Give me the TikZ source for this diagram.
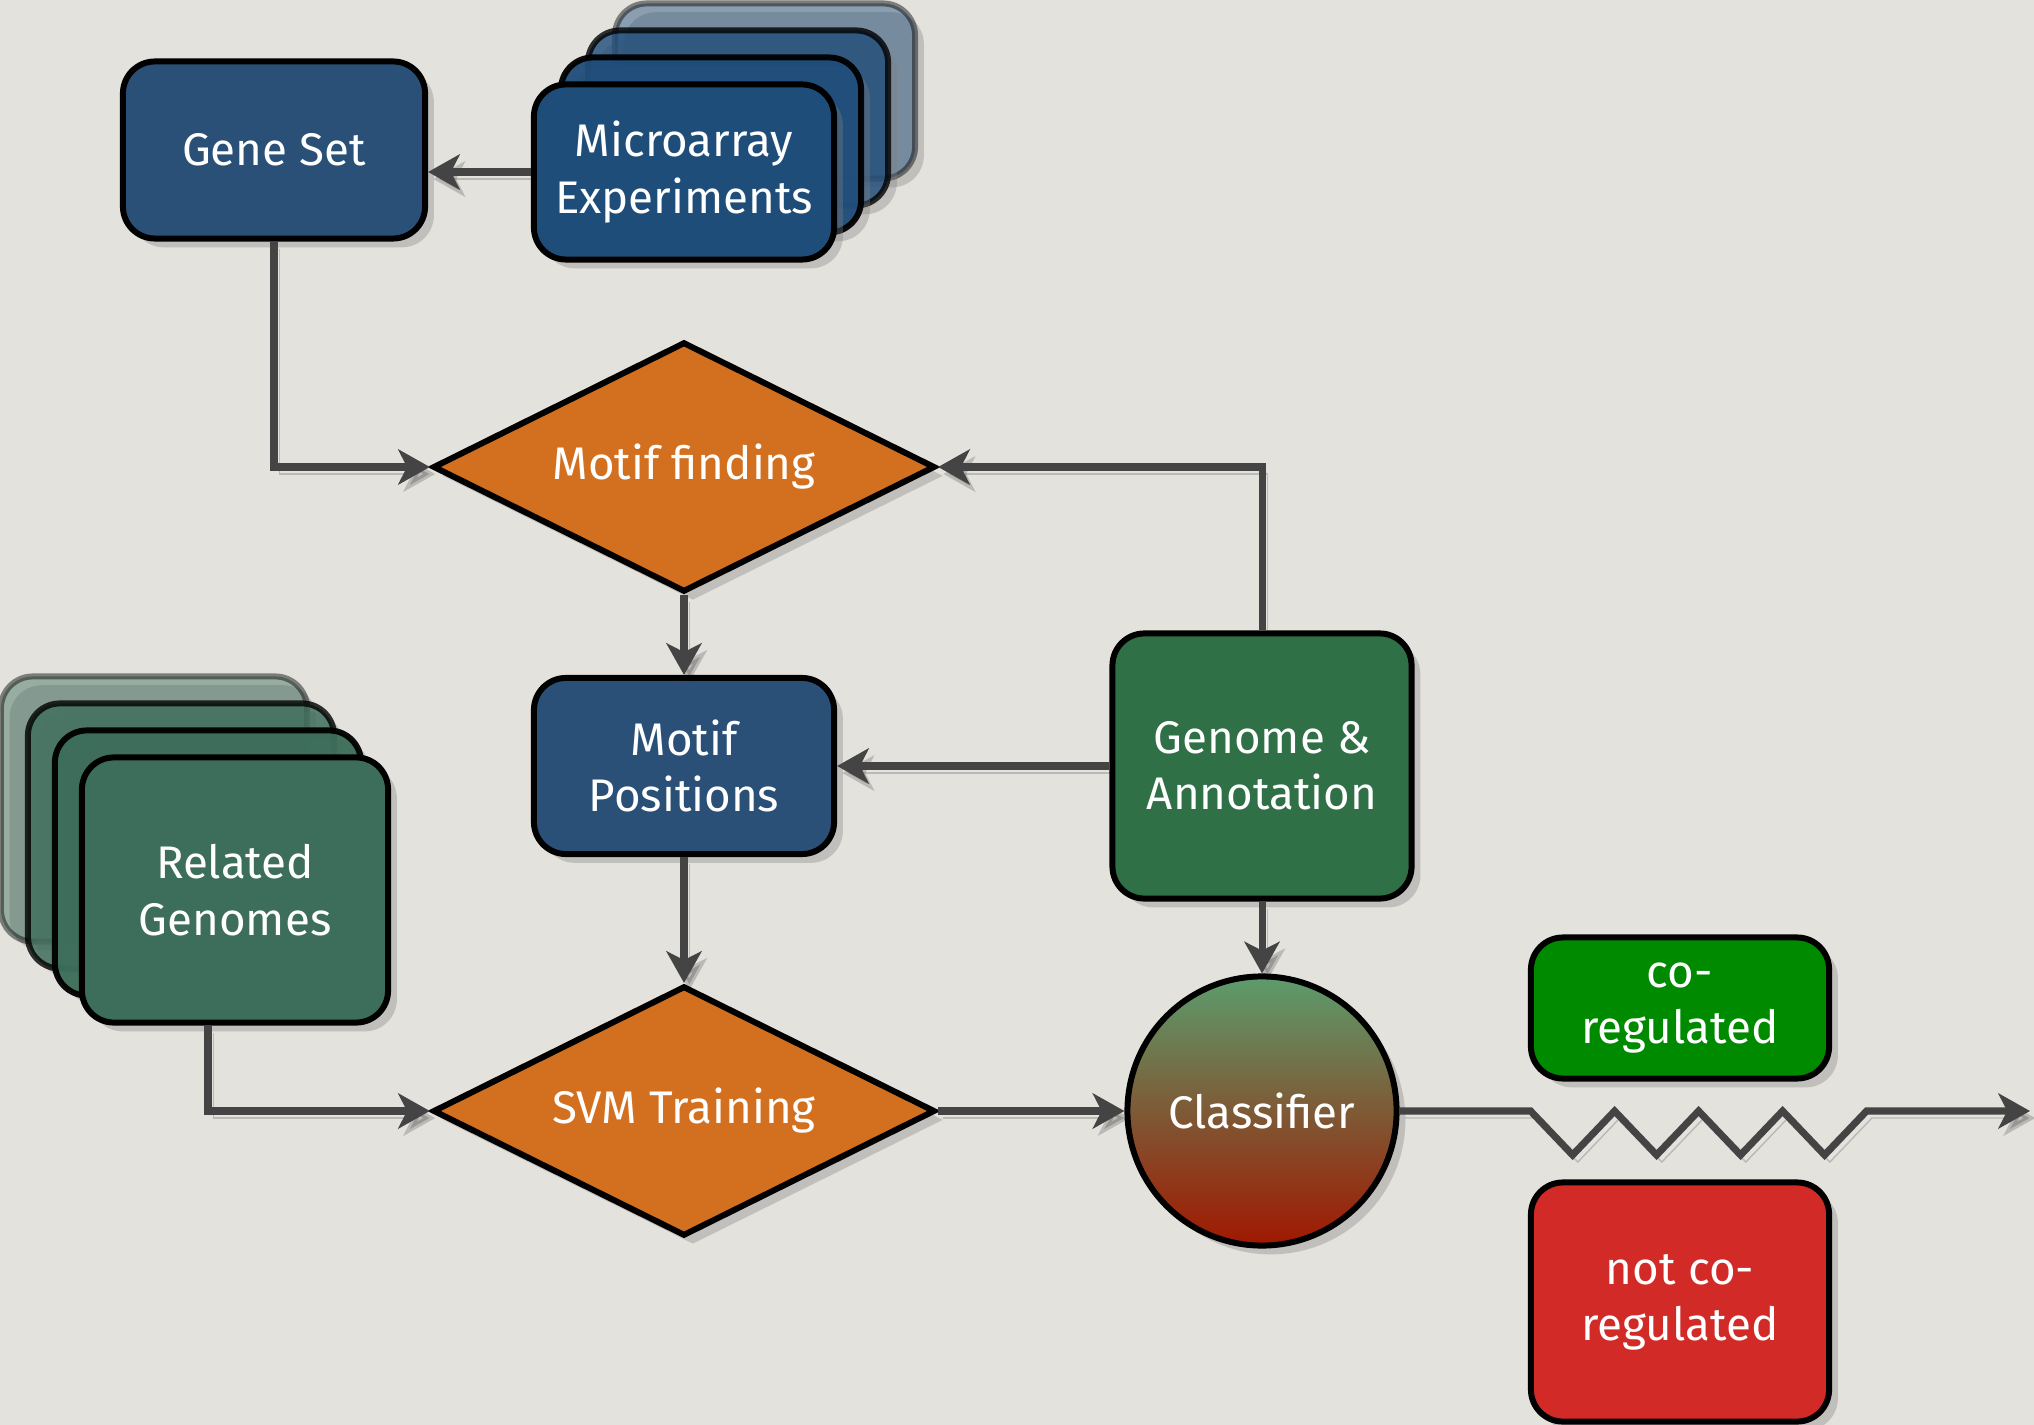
\documentclass[tikz,border=0pt]{standalone}
\usepackage{fontspec}
\setmainfont{Fira Sans}
\usepackage{tikz}
\usetikzlibrary{positioning,arrows.meta,shapes.geometric,shadows}
\definecolor{paper}{HTML}{E3E2DD}
\definecolor{flowblue}{HTML}{2A5078}
\definecolor{microblue}{HTML}{1F4D7A}
\definecolor{flowgreen}{HTML}{2F7047}
\definecolor{relgreen}{HTML}{3D6E5B}
\definecolor{flowrange}{HTML}{D3701F}
\definecolor{cogreen}{HTML}{008A00}
\definecolor{notred}{HTML}{D22B27}
\definecolor{linegray}{HTML}{444444}
\definecolor{cltop}{HTML}{5C9C6C}
\definecolor{clbot}{HTML}{A01800}

\begin{document}
\begin{tikzpicture}[x=0.01cm,y=-0.01cm,
    box/.style={draw=black,line width=1.7pt,rounded corners=0.32cm,text=white,align=center,
      font=\fontsize{13}{16}\selectfont,minimum width=3cm,
      drop shadow={shadow xshift=2.5pt,shadow yshift=-2.5pt,opacity=0.35}},
    dia/.style={diamond,draw=black,line width=1.7pt,fill=flowrange,text=white,aspect=2,
      minimum width=5.02cm,minimum height=2.5cm,inner sep=0pt,
      font=\fontsize{13}{16}\selectfont,
      drop shadow={shadow xshift=2.5pt,shadow yshift=-2.5pt,opacity=0.35}},
    flow/.style={draw=linegray,line width=2pt,-{Stealth[length=9pt,width=10pt,inset=2.5pt]},
      preaction={draw=black,opacity=0.18,transform canvas={shift={(1.5pt,-2pt)}}}}]
  \fill[paper] (0,0) rectangle (2034,1425);
  \useasboundingbox (0,0) rectangle (2034,1425);

  \foreach \k/\op in {3/0.45,2/0.8,1/0.95}
    \node[box,fill=microblue,minimum height=1.75cm,opacity=\op] (ma\k) at ({684+27*\k},{172-27*\k}) {};
  \foreach \k/\op in {3/0.45,2/0.8,1/0.95}
    \node[box,fill=relgreen,minimum width=3.06cm,minimum height=2.65cm,opacity=\op] (rg\k) at ({235-27*\k},{890-27*\k}) {};

  \node[box,fill=flowblue,minimum width=3.02cm,minimum height=1.77cm] (gs) at (274,150) {Gene Set};
  \node[box,fill=microblue,minimum height=1.75cm] (ma) at (684,172) {Microarray\\Experiments};
  \node[dia] (mf) at (684,467) {Motif finding};
  \node[box,fill=flowblue,minimum height=1.76cm] (mp) at (684,766) {Motif\\Positions};
  \node[box,fill=flowgreen,minimum width=2.99cm,minimum height=2.65cm] (ga) at (1262,766) {Genome \&\\Annotation};
  \node[box,fill=relgreen,minimum width=3.06cm,minimum height=2.65cm] (rg) at (235,890) {Related\\Genomes};
  \node[dia] (svm) at (684,1111) {SVM Training};
  \node[circle,draw=black,line width=1.7pt,top color=cltop,bottom color=clbot,text=white,
    minimum size=2.69cm,inner sep=0pt,font=\fontsize{13}{16}\selectfont,
    drop shadow={shadow xshift=2.5pt,shadow yshift=-2.5pt,opacity=0.35}] (cl) at (1262,1111) {Classifier};
  \node[box,fill=cogreen,minimum width=2.98cm,minimum height=1.41cm] (co) at (1680,1008) {co-\\regulated};
  \node[box,fill=notred,minimum width=2.98cm,minimum height=2.39cm] (nc) at (1680,1302) {not co-\\regulated};
  \coordinate (out) at (2030,1111);

  \draw[flow] (ma.west) -- (ma.west -| gs.east);
  \draw[flow] (gs.south) |- (mf.west);
  \draw[flow] (ga.north) |- (mf.east);
  \draw[flow] (mf.south) -- (mp.north);
  \draw[flow] (ga.west) -- (mp.east);
  \draw[flow] (mp.south) -- (svm.north);
  \draw[flow] ([xshift=-0.27cm]rg.south) |- (svm.west);
  \draw[flow] (svm.east) -- (cl.west);
  \draw[flow] (ga.south) -- (cl.north);
  \draw[flow,line join=miter] (cl.east) -- ++(131,0)
    \foreach \t in {1,...,4} { -- ++(42,44) -- ++(42,-44) } -- (out);
\end{tikzpicture}
\end{document}
